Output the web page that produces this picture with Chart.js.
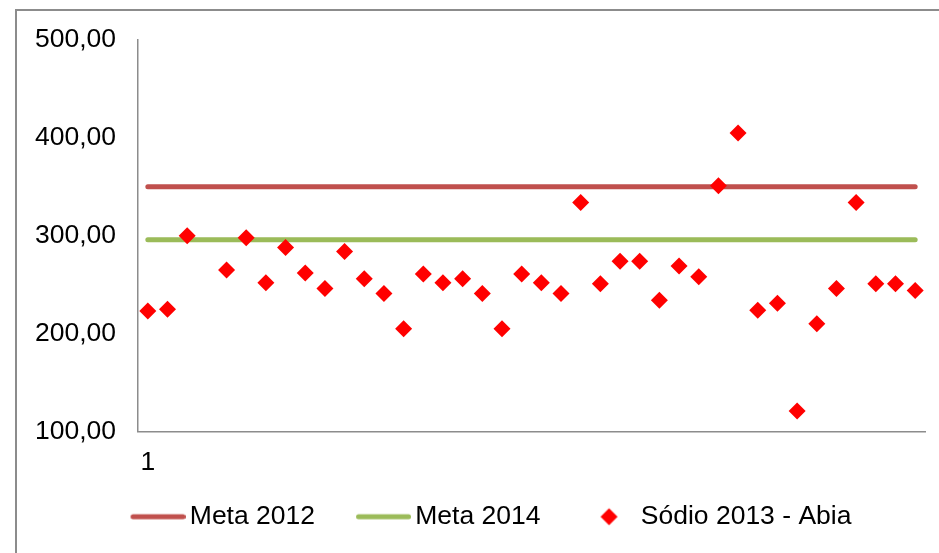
<!DOCTYPE html>
<html lang="pt">
<head>
    <meta charset="UTF-8">
    <title>Sódio 2013 - Abia</title>
    <script src="https://cdn.jsdelivr.net/npm/chart.js@4.4.1/dist/chart.umd.min.js"></script>
    <style>
        html, body {
            margin: 0;
            padding: 0;
            background: #fff;
            overflow: hidden;
        }

        #wrap {
            position: relative;
            width: 939px;
            height: 553px;
        }

        /* frame of the original chart object, cut off at right and bottom */
        #frame {
            position: absolute;
            left: 15px;
            top: 9px;
            width: 960px;
            height: 600px;
            border-left: 2px solid #8c8c8c;
            border-top: 2px solid #8c8c8c;
            pointer-events: none;
        }
    </style>
</head>
<body>

<div id="wrap">
    <div id="frame"></div>
    <canvas id="chartJSContainer"></canvas>
</div>

<script>
    const categories = [1, 2, 3, 4, 5, 6, 7, 8, 9, 10, 11, 12, 13, 14, 15, 16, 17, 18, 19, 20,
                        21, 22, 23, 24, 25, 26, 27, 28, 29, 30, 31, 32, 33, 34, 35, 36, 37, 38, 39, 40];

    const meta2012 = [350, 350, 350, 350, 350, 350, 350, 350, 350, 350, 350, 350, 350, 350, 350, 350, 350, 350, 350, 350,
                      350, 350, 350, 350, 350, 350, 350, 350, 350, 350, 350, 350, 350, 350, 350, 350, 350, 350, 350, 350];

    const meta2014 = [296, 296, 296, 296, 296, 296, 296, 296, 296, 296, 296, 296, 296, 296, 296, 296, 296, 296, 296, 296,
                      296, 296, 296, 296, 296, 296, 296, 296, 296, 296, 296, 296, 296, 296, 296, 296, 296, 296, 296, 296];

    const sodio2013 = [223, 225, 300, null, 265, 298, 252, 288, 262, 246, 284, 256, 241, 205, 261, 252, 256, 241, 205, 261,
                       252, 241, 334, 251, 274, 274, 234, 269, 258, 351, 405, 224, 231, 121, 210, 246, 334, 251, 251, 244];

    const seriesNames = ['Meta 2012', 'Meta 2014', 'Sódio 2013 - Abia'];
    const seriesColors = ['#C0504D', '#9BBB59', '#FF0000'];

    const font = { family: "'Liberation Sans', Arial, sans-serif", size: 26.5 };

    // little pictures for the legend keys (line sample or diamond)
    function legendSymbol(color, kind) {
        const c = document.createElement('canvas');
        c.width = 88;
        c.height = 22;
        const g = c.getContext('2d');
        if (kind === 'line') {
            g.strokeStyle = color;
            g.lineWidth = 5;
            g.lineCap = 'round';
            g.beginPath();
            g.moveTo(35.5, 11);
            g.lineTo(85.5, 11);
            g.stroke();
        } else {
            g.fillStyle = color;
            g.beginPath();
            g.moveTo(60.5, 2.5);
            g.lineTo(69, 11);
            g.lineTo(60.5, 19.5);
            g.lineTo(52, 11);
            g.closePath();
            g.fill();
        }
        return c;
    }

    const legendSymbols = [
        legendSymbol(seriesColors[0], 'line'),
        legendSymbol(seriesColors[1], 'line'),
        legendSymbol(seriesColors[2], 'diamond')
    ];

    const options = {
        type: 'line',
        data: {
            labels: categories,
            datasets: [{
                label: seriesNames[0],
                data: meta2012,
                borderColor: seriesColors[0],
                backgroundColor: seriesColors[0],
                borderWidth: 5,
                borderCapStyle: 'round',
                pointRadius: 0,
                order: 2
            }, {
                label: seriesNames[1],
                data: meta2014,
                borderColor: seriesColors[1],
                backgroundColor: seriesColors[1],
                borderWidth: 5,
                borderCapStyle: 'round',
                pointRadius: 0,
                order: 1
            }, {
                label: seriesNames[2],
                data: sodio2013,
                showLine: false,
                pointStyle: 'rectRot',
                pointRadius: 8.5,
                pointBorderWidth: 0,
                pointBackgroundColor: seriesColors[2],
                borderColor: seriesColors[2],
                order: 0
            }]
        },
        options: {
            responsive: true,
            maintainAspectRatio: false,
            animation: false,
            layout: {
                padding: { left: 33, right: 14, top: 40, bottom: 13 }
            },
            plugins: {
                tooltip: { enabled: false },
                legend: {
                    position: 'bottom',
                    labels: {
                        usePointStyle: true,
                        pointStyleWidth: 70,
                        padding: 17,
                        color: '#000',
                        font: font,
                        generateLabels: function(chart) {
                            return chart.data.datasets.map((ds, i) => ({
                                text: ds.label,
                                pointStyle: legendSymbols[i],
                                fontColor: '#000',
                                lineWidth: 0,
                                hidden: false,
                                datasetIndex: i
                            }));
                        }
                    }
                }
            },
            scales: {
                x: {
                    offset: true,
                    grid: { display: false, drawTicks: false },
                    border: { display: true, color: '#8c8c8c', width: 1.5 },
                    ticks: {
                        autoSkip: false,
                        maxRotation: 0,
                        padding: 15,
                        color: '#000',
                        font: font,
                        callback: function(value, index) {
                            return index === 0 ? this.getLabelForValue(value) : '';
                        }
                    },
                    afterFit: function(scale) {
                        scale.height = 55;
                    }
                },
                y: {
                    min: 100,
                    max: 500,
                    grid: { display: false, drawTicks: false },
                    border: { display: true, color: '#8c8c8c', width: 1.5 },
                    ticks: {
                        stepSize: 100,
                        padding: 22,
                        color: '#000',
                        font: font,
                        callback: function(value) {
                            return value.toFixed(2).replace('.', ',');
                        }
                    },
                    afterFit: function(scale) {
                        scale.width = 105;
                    }
                }
            }
        }
    };

    const ctx = document.getElementById('chartJSContainer').getContext('2d');
    const chart = new Chart(ctx, options);
</script>

</body>
</html>
